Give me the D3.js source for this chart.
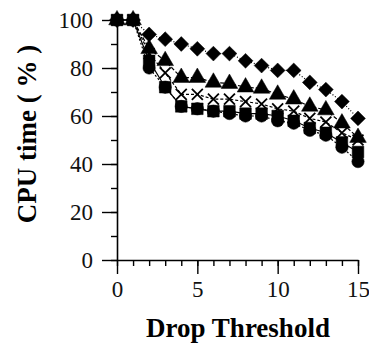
<!DOCTYPE html>
<html>
<head>
<meta charset="utf-8">
<script src="https://cdn.jsdelivr.net/npm/d3@7"></script>
<style>
  body { margin: 0; background: #fff; }
  svg { display: block; }
</style>
</head>
<body>
<div id="chart"></div>
<script>
// drop threshold values
const thresholds = [0,1,2,3,4,5,6,7,8,9,10,11,12,13,14,15];
// CPU time (%) for each series
const diamondSeries  = [100,100,94,92,90,88,86,86,83,81,79,79,74,71,66,59];
const triangleSeries = [100,100,88,83,76,76,74,73.5,72,71.5,69,67,64,62.5,57,51];
const crossSeries    = [100,100,86,78,69,69,67,67,66,65,63,62,59,57.5,53,50];
const squareSeries   = [100,100,83,72,64,63,62,62,61,61,60,58,55,53,49,45];
const circleSeries   = [100,100,80,72,64,63,62,61,60,60,58,57,54,52,47,41];
const xTicks = [0,5,10,15];
const yTicks = [0,20,40,60,80,100];

const width = 369, height = 344;
const svg = d3.select("#chart").append("svg")
  .attr("width", width)
  .attr("height", height);

const x = d3.scaleLinear().domain([0, 15]).range([117, 358]);
const y = d3.scaleLinear().domain([0, 100]).range([260, 20]);

// axes (ticks drawn by d3.axis, major + minor)
const font = "'Liberation Serif', 'Times New Roman', serif";

const xMinor = svg.append("g").attr("transform", "translate(0,260)")
  .call(d3.axisBottom(x).tickValues(d3.range(0, 16)).tickSize(6).tickFormat(""));
const xMajor = svg.append("g").attr("transform", "translate(0,260)")
  .call(d3.axisBottom(x).tickValues(xTicks).tickSize(14).tickSizeOuter(0).tickPadding(7));

const yMinor = svg.append("g").attr("transform", "translate(117,0)")
  .call(d3.axisLeft(y).tickValues(d3.range(0, 101, 10)).tickSize(6).tickFormat(""));
const yMajor = svg.append("g").attr("transform", "translate(117,0)")
  .call(d3.axisLeft(y).tickValues(yTicks).tickSize(15).tickSizeOuter(0).tickPadding(9));

[xMinor, xMajor, yMinor, yMajor].forEach(g => {
  g.selectAll("path.domain").attr("stroke", "#000").attr("stroke-width", 1.6);
  g.selectAll(".tick line").attr("stroke", "#000").attr("stroke-width", 1.4);
  g.selectAll("text").attr("fill", "#111")
    .style("font-family", font).style("font-size", "23px");
});
xMinor.select("path.domain").remove();
yMinor.select("path.domain").remove();

// axis titles
svg.append("text")
  .attr("x", 238).attr("y", 337)
  .attr("text-anchor", "middle")
  .style("font-family", font).style("font-size", "27px").style("font-weight", "bold")
  .text("Drop Threshold");

svg.append("text")
  .attr("transform", "translate(36,134) rotate(-90)")
  .attr("text-anchor", "middle")
  .style("font-family", font).style("font-size", "27px").style("font-weight", "bold")
  .text("CPU time ( % )");

// series
const series = [
  { values: squareSeries,   symbol: d3.symbolSquare,   size: 135, dash: null,  filled: true },
  { values: circleSeries,   symbol: d3.symbolCircle,   size: 120, dash: "2,2", filled: true },
  { values: crossSeries,    symbol: d3.symbolX,        size: 80,  dash: "3,2", filled: false },
  { values: triangleSeries, symbol: d3.symbolTriangle, size: 120, dash: "4,2", filled: true },
  { values: diamondSeries,  symbol: d3.symbolDiamond2, size: 140, dash: "1,2", filled: true }
];

const line = d3.line()
  .x((d, i) => x(thresholds[i]))
  .y(d => y(d));

series.forEach(s => {
  svg.append("path")
    .datum(s.values)
    .attr("d", line)
    .attr("fill", "none")
    .attr("stroke", "#000")
    .attr("stroke-width", 1.2)
    .attr("stroke-dasharray", s.dash);
});

series.forEach(s => {
  svg.append("g")
    .selectAll("path")
    .data(s.values)
    .enter()
    .append("path")
    .attr("transform", (d, i) => "translate(" + x(thresholds[i]) + "," + y(d) + ")")
    .attr("d", d3.symbol().type(s.symbol).size(s.size))
    .attr("fill", s.filled ? "#000" : "none")
    .attr("stroke", "#000")
    .attr("stroke-width", s.filled ? 0.5 : 1.8);
});
</script>
</body>
</html>
